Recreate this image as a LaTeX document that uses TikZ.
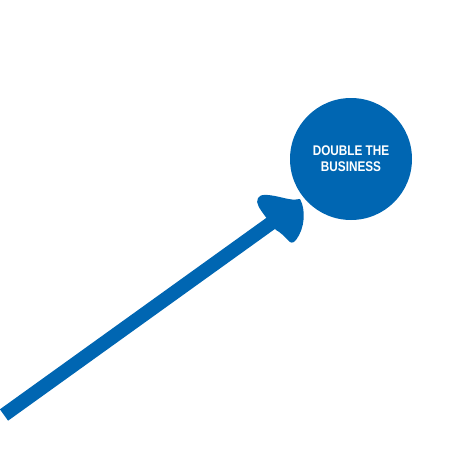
\documentclass[tikz,border=0pt]{standalone}
\usepackage{fontspec}
\newfontfamily\dinfont[FakeStretch=0.84]{Liberation Sans}
\definecolor{bizblue}{RGB}{0,102,178}
\begin{document}
\begin{tikzpicture}[x=1pt,y=-1pt]
\useasboundingbox (0,0) rectangle (456,472);
\node[circle,fill=bizblue,minimum size=122pt,inner sep=0pt,align=center,text=white,font=\dinfont\bfseries\fontsize{14}{16}\selectfont] (goal) at (351,159) {DOUBLE THE\\BUSINESS};
\coordinate (start) at (4,415);
\coordinate (neck) at (274,221);
\draw[bizblue,line width=14pt] (start) -- (neck);
% head
\fill[bizblue] (265,216) .. controls (260,209) and (255,203) .. (258,198)
  .. controls (261,193) and (268,195) .. (275,196)
  .. controls (285,198) and (293,201) .. (300,199)
  .. controls (306,210) and (305,228) .. (296,240)
  .. controls (293,244) and (290,243) .. (288,240)
  .. controls (284,236) and (280,232) .. (276,230) -- cycle;
\end{tikzpicture}
\end{document}
